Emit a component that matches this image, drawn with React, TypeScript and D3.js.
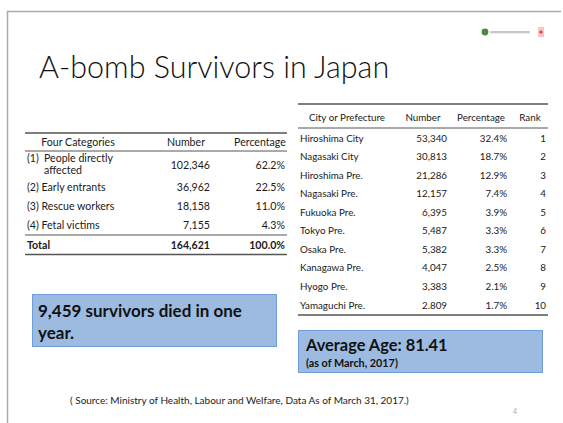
import React from "react";
import * as d3 from "d3";

const categories = ["(1) People directly|affected", "(2) Early entrants", "(3) Rescue workers", "(4) Fetal victims"];
const categoryNumbers = [102346, 36962, 18158, 7155];
const categoryPercents = [62.2, 22.5, 11.0, 4.3];
const totalNumber = 164621;
const totalPercent = 100.0;

const cities = ["Hiroshima City", "Nagasaki City", "Hiroshima Pre.", "Nagasaki Pre.", "Fukuoka Pre.", "Tokyo Pre.", "Osaka Pre.", "Kanagawa Pre.", "Hyogo Pre.", "Yamaguchi Pre."];
const cityNumbers = ["53,340", "30,813", "21,286", "12,157", "6,395", "5,487", "5,382", "4,047", "3,383", "2.809"];
const cityPercents = [32.4, 18.7, 12.9, 7.4, 3.9, 3.3, 3.3, 2.5, 2.1, 1.7];
const cityRanks = [1, 2, 3, 4, 5, 6, 7, 8, 9, 10];

const leftHeaders = ["Four Categories", "Number", "Percentage"];
const rightHeaders = ["City or Prefecture", "Number", "Percentage", "Rank"];

const FONT = "Lato, 'Open Sans', sans-serif";
const fmtNum = d3.format(",");
const fmtPct = (v: number) => d3.format(".1f")(v) + "%";

export default function App() {
  const W = 563, H = 423;
  const leftRowY = [165, 187, 206, 225];
  const rightY = d3.scaleLinear().domain([0, cities.length - 1]).range([138, 305]);
  const tc = "#1a1a1a";
  const fsL = 10.6;
  const fsR = 9.8;
  return (
    <svg width={W} height={H} style={{ position: "absolute", left: 0, top: 0, background: "#fff" }} fontFamily={FONT}>
      <rect x={0} y={0} width={W} height={H} fill="#fff" />
      {/* slide border */}
      <line x1={7} y1={11.5} x2={561} y2={11.5} stroke="#aaa" strokeWidth={1.5} />
      <line x1={7.5} y1={11} x2={7.5} y2={H} stroke="#aaa" strokeWidth={1.5} />
      {/* logo */}
      <circle cx={485} cy={32} r={3.4} fill="#4a8a3f" />
      <rect x={490} y={31} width={40} height={2.2} fill="#c8c8c8" rx={1} />
      <rect x={538} y={27} width={6} height={10} fill="#f6c6c6" />
      <circle cx={541} cy={32} r={1.6} fill="#e23b3b" />
      {/* title */}
      <text x={39} y={78} fontSize={30.5} fontWeight={300} fill="#111" fontFamily={FONT}>A-bomb Survivors in Japan</text>

      {/* left table */}
      <g fontSize={fsL} fill={tc}>
        <line x1={25} x2={287} y1={133} y2={133} stroke="#555" strokeWidth={1.3} />
        <text x={78} y={146} textAnchor="middle">{leftHeaders[0]}</text>
        <text x={186} y={146} textAnchor="middle">{leftHeaders[1]}</text>
        <text x={260} y={146} textAnchor="middle">{leftHeaders[2]}</text>
        <line x1={25} x2={287} y1={151} y2={151} stroke="#555" strokeWidth={1} />
        {categories.map((c, i) => {
          const y = leftRowY[i];
          const parts = c.split("|");
          return (
            <g key={c}>
              {parts.length > 1 ? (
                <>
                  <text x={27} y={y - 3}>{"(1)"}<tspan x={44}>{parts[0].replace("(1) ", "")}</tspan></text>
                  <text x={44} y={y + 9}>{parts[1]}</text>
                </>
              ) : (
                <text x={27} y={y + 4}>{c}</text>
              )}
              <text x={210} y={y + 4} textAnchor="end">{fmtNum(categoryNumbers[i])}</text>
              <text x={285} y={y + 4} textAnchor="end">{fmtPct(categoryPercents[i])}</text>
            </g>
          );
        })}
        <line x1={25} x2={287} y1={235} y2={235} stroke="#555" strokeWidth={1} />
        <text x={27} y={249} fontWeight={700}>Total</text>
        <text x={210} y={249} textAnchor="end" fontWeight={700}>{fmtNum(totalNumber)}</text>
        <text x={285} y={249} textAnchor="end" fontWeight={700}>{fmtPct(totalPercent)}</text>
        <line x1={25} x2={287} y1={254.5} y2={254.5} stroke="#555" strokeWidth={1.3} />
      </g>

      {/* right table */}
      <g fontSize={fsR} fill={tc}>
        <line x1={298} x2={548} y1={104} y2={104} stroke="#555" strokeWidth={1.3} />
        <text x={347} y={121} textAnchor="middle">{rightHeaders[0]}</text>
        <text x={423} y={121} textAnchor="middle">{rightHeaders[1]}</text>
        <text x={481} y={121} textAnchor="middle">{rightHeaders[2]}</text>
        <text x={530} y={121} textAnchor="middle">{rightHeaders[3]}</text>
        <line x1={298} x2={548} y1={128} y2={128} stroke="#555" strokeWidth={1} />
        {cities.map((c, i) => {
          const y = rightY(i) + 3.5;
          return (
            <g key={c}>
              <text x={300} y={y}>{c}</text>
              <text x={447} y={y} textAnchor="end">{cityNumbers[i]}</text>
              <text x={507} y={y} textAnchor="end">{fmtPct(cityPercents[i])}</text>
              <text x={546} y={y} textAnchor="end">{cityRanks[i]}</text>
            </g>
          );
        })}
        <line x1={298} x2={548} y1={315} y2={315} stroke="#555" strokeWidth={1.3} />
      </g>

      {/* boxes */}
      <rect x={32.5} y={294.5} width={244} height={52} fill="#9dbbe1" stroke="#6e9fd9" strokeWidth={1} />
      <text x={38} y={317} fontSize={17} fontWeight={700} fill="#111">9,459 survivors died in one</text>
      <text x={38} y={339} fontSize={17} fontWeight={700} fill="#111">year.</text>

      <rect x={298.5} y={330.5} width={244} height={42} fill="#9dbbe1" stroke="#6e9fd9" strokeWidth={1} />
      <text x={306} y={351} fontSize={16.4} fontWeight={700} fill="#111">Average Age: 81.41</text>
      <text x={306} y={367} fontSize={10.8} fontWeight={700} fill="#111">(as of March, 2017)</text>

      <text x={70} y={404} fontSize={10} fill="#222">( Source: Ministry of Health, Labour and Welfare, Data As of March 31, 2017.)</text>
      <text x={513} y={414} fontSize={7} fill="#aaa">4</text>
    </svg>
  );
}
